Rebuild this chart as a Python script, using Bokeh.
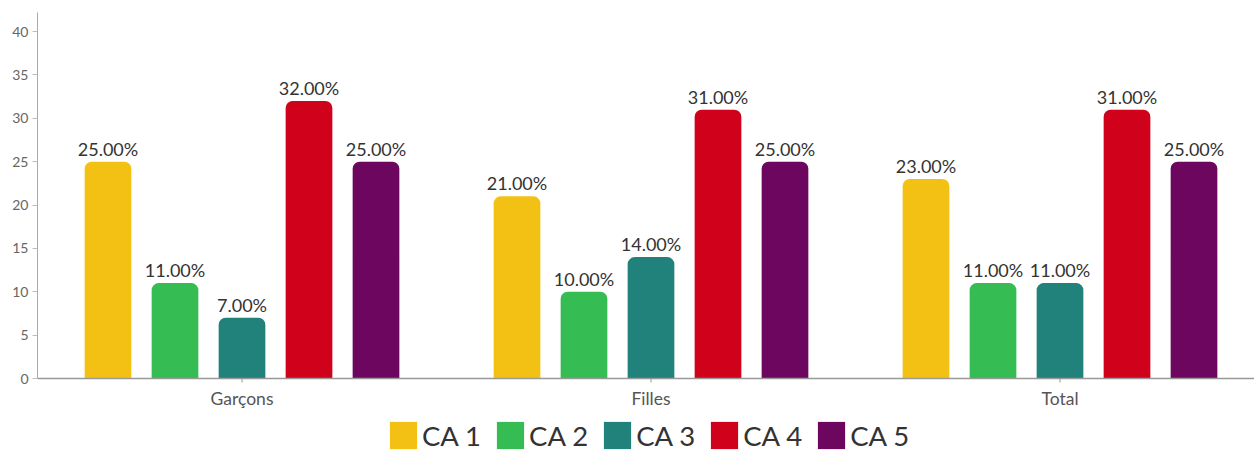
import math
from bokeh.plotting import figure
from bokeh.models import ColumnDataSource, Range1d, FixedTicker, Legend, LegendItem, Span
from bokeh.core.properties import value
from bokeh.embed import file_html
from bokeh.resources import INLINE

categories = ["Garçons", "Filles", "Total"]
series_names = ["CA 1", "CA 2", "CA 3", "CA 4", "CA 5"]
ca1 = [25, 21, 23]
ca2 = [11, 10, 11]
ca3 = [7, 14, 11]
ca4 = [32, 31, 31]
ca5 = [25, 25, 25]
series_values = [ca1, ca2, ca3, ca4, ca5]
colors = ["#F3C114", "#35BC53", "#20827A", "#D0011A", "#6D065F"]
y_ticks = [0, 5, 10, 15, 20, 25, 30, 35, 40]

FONT = "Lato"
W, H = 1254, 452
LEFT, TOP = 37, 12
frame_w = W - LEFT
frame_h = H - TOP
cat_px = 409.0
y_top = 42.2
px_per_unit = 366.0 / y_top
y_bottom = y_top - frame_h / px_per_unit

p = figure(width=W, height=H, output_backend="svg", toolbar_location=None,
           x_range=Range1d(0, frame_w / cat_px), y_range=Range1d(y_bottom, y_top),
           x_axis_location=None,
           min_border_left=LEFT, min_border_right=0, min_border_top=TOP,
           min_border_bottom=0)
p.outline_line_color = None
p.xgrid.visible = False
p.ygrid.visible = False
p.background_fill_color = "white"
p.border_fill_color = "white"

centers = [j + 0.5 for j in range(len(categories))]
cat_src = ColumnDataSource(dict(x=centers, y=[0] * len(categories), label=categories))

# category tick marks (drawn first, bars cover the upper half)
p.scatter(x="x", y="y", source=cat_src, marker="dash", size=8, angle=math.pi / 2,
          line_color="#999999", line_width=1)

pitch = 67 / cat_px
bw = 46.7 / cat_px
renderers = []
for i, (name, vals, col) in enumerate(zip(series_names, series_values, colors)):
    xs = [c + (i - 2) * pitch for c in centers]
    src = ColumnDataSource(dict(x=xs, top=vals,
                                label=[f"{v:.2f}%" for v in vals]))
    r = p.vbar(x="x", top="top", bottom=0, width=bw, source=src,
               fill_color=col, line_color=None, border_radius=(7, 7, 0, 0))
    renderers.append((name, r))
    p.text(x="x", y="top", text="label", source=src, text_align="center",
           text_baseline="bottom", y_offset=-2,
           text_font=value(FONT), text_font_size="18px", text_color="#333333")

# x axis line at zero
p.add_layout(Span(location=0, dimension="width", line_color="#999999", line_width=1.5))

# category labels
p.text(x="x", y="y", text="label", source=cat_src, text_align="center",
       text_baseline="top", y_offset=9,
       text_font=value(FONT), text_font_size="17.5px", text_color="#555555")

p.yaxis.bounds = (0, y_top)
p.yaxis.ticker = FixedTicker(ticks=y_ticks)
p.yaxis.minor_tick_line_color = None
p.yaxis.major_tick_in = 0
p.yaxis.major_tick_out = 5
p.yaxis.major_tick_line_color = "#bbbbbb"
p.yaxis.axis_line_color = "#aaaaaa"
p.yaxis.major_label_text_font = FONT
p.yaxis.major_label_text_font_size = "14px"
p.yaxis.major_label_text_color = "#666666"
p.yaxis.major_label_standoff = 4

legend = Legend(items=[LegendItem(label=n, renderers=[r]) for n, r in renderers],
                orientation="horizontal", location=(349, 0),
                glyph_width=34, glyph_height=34, label_standoff=2, spacing=12,
                padding=0, margin=0, border_line_color=None,
                background_fill_alpha=0,
                label_text_font=FONT, label_text_font_size="27.5px",
                label_text_color="#333333", label_height=34)
p.add_layout(legend, "center")

open("out.html", "w").write(file_html(p, INLINE))
